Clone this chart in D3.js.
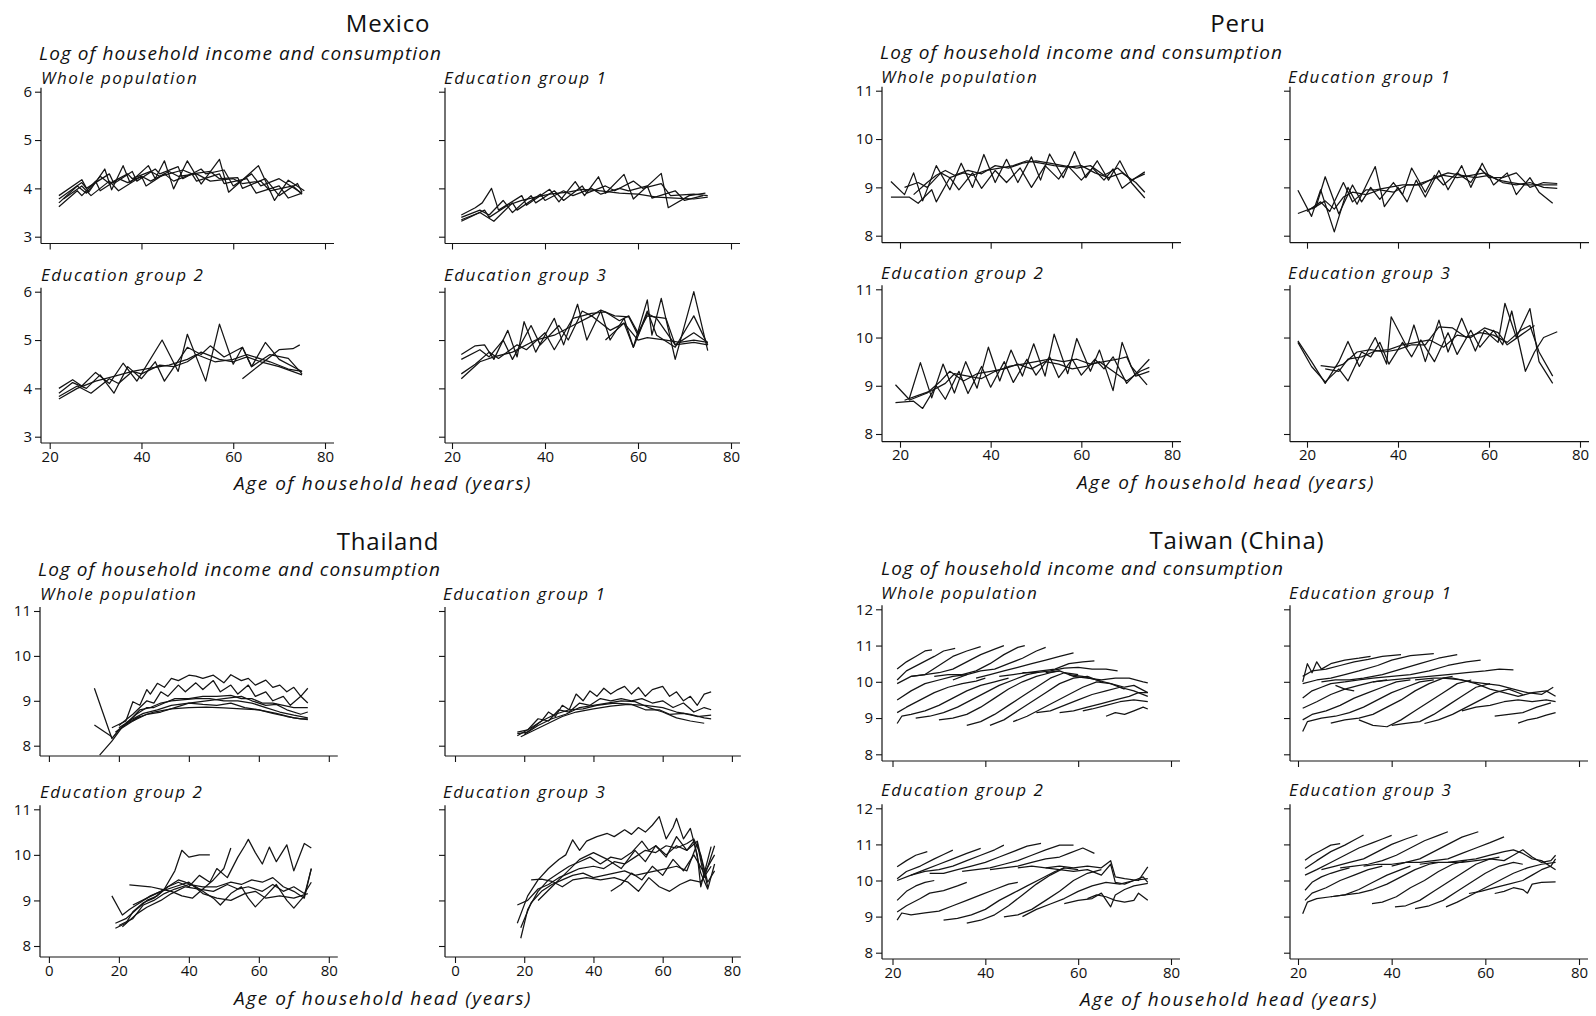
<!DOCTYPE html>
<html><head><meta charset="utf-8">
<script src="https://cdn.jsdelivr.net/npm/d3@7"></script>
<style>
body{margin:0;background:#fff;}
svg text{font-family:"Open Sans","Noto Sans",sans-serif;fill:#111;}
</style></head><body>
<svg id="chart" width="1596" height="1016"></svg>
<script>
// Cohort profiles: each line is a list of [age of household head, log value]
const countryNames = ["Mexico", "Peru", "Thailand", "Taiwan (China)"];
const panelNames = ["Whole population", "Education group 1", "Education group 2", "Education group 3"];
const ageTicks = [20, 40, 60, 80];
const thailandAgeTicks = [0, 20, 40, 60, 80];
const mexicoTicks = [3, 4, 5, 6];
const peruTicks = [8, 9, 10, 11];
const thailandTicks = [8, 9, 10, 11];
const taiwanTicks = [8, 9, 10, 11, 12];

const mexicoWhole = [
  [[22,3.85],[27,4.18],[28.5,3.92],[32,4.4],[33.5,3.97],[36,4.47],[37.5,4.12],[41.5,4.47],[43,4.2],[45,4.57],[47,3.99],[50,4.57],[53,4.09],[57,4.6],[59,3.92],[65.5,4.47],[69,3.75],[72,4.17],[75.5,3.95]],
  [[22,3.78],[27,4.12],[28,4.0],[33,4.3],[34,4.1],[38,4.35],[39,4.15],[43,4.4],[44,4.3],[48,4.45],[49,4.2],[53,4.4],[54,4.3],[58,4.38],[60,4.05],[64,4.3],[66,4.05],[70,4.2],[75,3.9]],
  [[22,3.7],[26,4.05],[28,3.9],[31,4.25],[33,4.1],[37,4.3],[38,4.2],[42,4.35],[44,4.25],[49,4.38],[51,4.3],[55,4.35],[57,4.2],[61,4.22],[62,4.0],[67,4.2],[70,3.85],[74,4.1],[75,3.92]],
  [[22,3.62],[26,3.95],[27,3.85],[30,4.15],[31,3.95],[35,4.2],[37,4.12],[40,4.25],[42,4.15],[46,4.35],[48,4.25],[52,4.3],[55,4.15],[60,4.2],[62,4.1],[66,4.15],[68,3.95],[73,4.05],[75,3.88]],
  [[23,3.78],[27,4.05],[29,3.85],[33,4.15],[35,3.95],[40,4.25],[41,4.05],[45,4.3],[47,4.15],[51,4.3],[52,4.15],[57,4.3],[58,4.1],[63,4.2],[65,3.9],[70,4.05],[72,3.8],[75,3.9]]
];
const mexicoEdu1 = [
  [[22,3.45],[25,3.6],[26.5,3.7],[28.5,4.0],[30,3.55],[35,3.85],[36,3.65],[41,3.98],[43,3.72],[46.5,4.14],[48.5,3.85],[51.5,4.24],[53,3.9],[57,4.29],[59,3.78],[65,4.31],[66.5,3.6],[71,3.85],[74.5,3.9]],
  [[22,3.4],[26,3.55],[28,3.45],[31,3.75],[33,3.5],[37,3.85],[38,3.7],[42,3.95],[44,3.75],[48,4.05],[49,3.9],[53,4.05],[55,3.95],[59,4.15],[61,4.0],[65,4.1],[67,3.85],[72,3.88],[75,3.85]],
  [[22,3.35],[26,3.5],[29,3.32],[33,3.7],[34,3.55],[39,3.88],[40,3.75],[44,3.95],[46,3.85],[50,4.0],[52,3.88],[56,4.0],[58,3.95],[62,4.05],[63,3.8],[68,3.95],[70,3.75],[74,3.85]],
  [[22,3.32],[27,3.55],[28,3.4],[32,3.65],[35,3.75],[38,3.82],[41,3.88],[45,3.92],[48,3.98],[52,3.95],[56,3.9],[60,3.88],[64,3.82],[68,3.8],[72,3.78],[75,3.82]]
];
const mexicoEdu2 = [
  [[22,4.0],[25,4.18],[27,4.05],[30,4.33],[33,4.1],[36,4.52],[39,4.15],[44.5,5.0],[48,4.35],[50,5.12],[54,4.15],[57,5.33],[60,4.5],[62,4.85],[64,4.45],[67,4.95],[70,4.6],[75,4.35]],
  [[22,3.9],[25,4.12],[28,4.0],[31,4.28],[34,3.9],[37,4.45],[40,4.2],[43,4.55],[45,4.15],[50,4.85],[53,4.7],[55,4.88],[58,4.65],[62,4.85],[64,4.45],[68,4.7],[72,4.62],[75,4.3]],
  [[22,3.83],[26,4.05],[29,3.9],[33,4.2],[35,4.1],[38,4.35],[40,4.3],[44,4.48],[47,4.45],[50,4.55],[53,4.75],[57,4.6],[60,4.55],[63,4.65],[66,4.55],[70,4.45],[75,4.28]],
  [[22,3.78],[26,4.0],[30,4.15],[34,4.25],[38,4.35],[42,4.42],[46,4.48],[50,4.6],[52,4.7],[56,4.55],[60,4.6],[63,4.7],[68,4.55],[72,4.4],[75,4.35]],
  [[62,4.2],[66,4.5],[70,4.8],[73,4.82],[74.5,4.9]]
];
const mexicoEdu3 = [
  [[22,4.7],[25,4.88],[27,4.9],[29,4.6],[32,5.2],[34,4.65],[35.5,5.38],[38,4.75],[42,5.45],[44,4.9],[47,5.74],[49,5.0],[52,5.6],[54,5.0],[57,5.45],[59,4.85],[62,5.83],[63,5.1],[65,5.86],[68,4.6],[72,6.0],[75,4.78]],
  [[22,4.6],[26,4.8],[28,4.65],[31,5.0],[33,4.6],[37,5.3],[39,4.9],[43,5.3],[45,5.0],[48,5.6],[50,5.5],[52,5.62],[55,5.5],[58,5.48],[60,5.1],[62,5.6],[64,5.1],[68,4.85],[72,5.5],[75,4.9]],
  [[22,4.3],[25,4.5],[28,4.75],[30,4.62],[34,4.9],[36,4.8],[40,5.15],[42,4.8],[46,5.45],[50,5.55],[53,5.58],[56,5.4],[58,5.5],[60,5.15],[62,5.5],[66,5.45],[68,4.9],[72,5.15],[75,4.95]],
  [[22,4.2],[26,4.55],[29,4.65],[33,4.75],[38,5.0],[42,5.1],[46,5.3],[50,5.5],[54,5.2],[57,5.35],[60,5.0],[62,5.05],[66,5.0],[69,4.95],[72,5.0],[75,4.95]],
  [[53,5.0],[57,5.35],[59,4.85],[62,5.55],[64,5.45],[68,4.9],[72,4.95],[75,4.9]]
];

const peruWhole = [
  [[18,9.12],[21,8.85],[23,9.3],[25,8.72],[28,9.45],[31,8.95],[33.5,9.5],[36,9.0],[38.5,9.68],[41,9.1],[43.5,9.58],[46,9.1],[49,9.63],[51,9.15],[53,9.69],[56,9.2],[58.5,9.74],[61,9.2],[63.5,9.55],[66,9.15],[68.5,9.55],[71,9.1],[74,8.78]],
  [[18,8.8],[22,8.8],[24,8.67],[27,8.95],[28,8.7],[31,9.2],[33,8.95],[36,9.3],[38,8.98],[41,9.35],[43.5,9.1],[46.5,9.4],[49,9.0],[52,9.45],[55,9.17],[57,9.45],[60,9.15],[62.5,9.4],[65,9.15],[67,9.38],[69,8.98],[72,9.2],[74,9.32]],
  [[21,9.0],[24,9.1],[26,9.0],[29,9.3],[31,9.2],[34,9.3],[36,9.25],[39,9.35],[42,9.4],[45,9.45],[48,9.55],[51,9.5],[54,9.45],[57,9.42],[60,9.45],[63,9.3],[66,9.2],[69,9.3],[72,9.1],[74,8.9]],
  [[23,8.85],[26,9.1],[28,9.25],[30,9.35],[32,9.25],[35,9.35],[38,9.28],[41,9.45],[44,9.4],[47,9.5],[50,9.55],[53,9.5],[56,9.45],[59,9.4],[62,9.45],[65,9.25],[68,9.4],[71,9.15],[74,9.28]]
];
const peruEdu1 = [
  [[18,8.94],[21,8.4],[23,8.95],[26,8.08],[29,9.0],[31,8.65],[35,9.43],[37,8.6],[40,9.0],[42,8.7],[44,9.15],[46,8.8],[49,9.35],[51,8.95],[54,9.45],[56,9.0],[58.5,9.5],[61,9.05],[64,9.3],[66,8.85],[69,9.2],[71,8.9],[74,8.67]],
  [[18,8.46],[22,8.6],[24,9.22],[27,8.45],[30,9.05],[32,8.7],[34,9.0],[36,8.75],[39,9.1],[41,8.85],[43,9.4],[46,8.9],[48,9.25],[50,9.05],[53,9.3],[56,9.1],[58,9.4],[60,9.2],[63,9.2],[66,9.3],[69,9.0],[72,9.1],[75,9.08]],
  [[20,8.5],[23,8.7],[25,8.5],[28,9.1],[30,8.7],[33,8.95],[35,8.95],[38,9.0],[41,9.05],[44,9.05],[47,9.15],[50,9.25],[53,9.2],[56,9.25],[59,9.3],[62,9.15],[65,9.1],[68,9.05],[71,9.05],[75,9.05]],
  [[21,8.55],[24,8.72],[26,8.55],[28,8.8],[30,8.9],[33,8.85],[36,8.95],[39,8.9],[42,9.05],[45,9.05],[48,9.2],[51,9.3],[54,9.25],[57,9.2],[60,9.25],[63,9.1],[66,9.05],[69,9.1],[72,9.0],[75,8.98]]
];
const peruEdu2 = [
  [[19,9.02],[22,8.72],[24.5,9.48],[27,8.75],[29.5,9.45],[32,8.85],[34.5,9.5],[37,8.95],[39.5,9.8],[42,9.1],[44.5,9.74],[47,9.2],[49.5,9.87],[52,9.2],[54,10.07],[57,9.25],[59,9.98],[62,9.3],[64,9.74],[67,8.9],[69,9.9],[71,9.4],[74.5,9.02]],
  [[19,8.65],[23,8.68],[25,8.53],[28,9.0],[30,8.72],[33,9.3],[35,8.84],[38,9.4],[40,8.97],[43,9.5],[45,9.07],[48,9.55],[50,9.22],[53,9.6],[55,9.17],[58,9.55],[60,9.22],[63,9.55],[65,9.35],[67,9.6],[70,9.05],[75,9.55]],
  [[21,8.7],[24,8.8],[27,8.9],[30,9.05],[32,9.25],[35,9.2],[38,9.15],[41,9.3],[44,9.4],[47,9.45],[50,9.5],[53,9.55],[56,9.5],[59,9.55],[62,9.45],[65,9.5],[68,9.55],[70,9.6],[72,9.2],[75,9.3]],
  [[22,8.7],[26,8.85],[29,9.1],[31,9.3],[34,9.1],[37,9.25],[40,9.3],[43,9.35],[46,9.45],[49,9.35],[52,9.5],[55,9.45],[58,9.35],[61,9.4],[64,9.5],[67,9.3],[70,9.1],[73,9.3],[75,9.38]]
];
const peruEdu3 = [
  [[18,9.93],[21,9.5],[24,9.05],[27,9.5],[29,9.92],[31.5,9.4],[35,10.0],[37.5,9.45],[38.5,10.43],[42,9.8],[43.5,10.26],[46,9.5],[49,10.36],[51,9.7],[54,10.4],[57,9.72],[59,10.15],[62,9.9],[63.5,10.71],[66,10.0],[69,10.6],[71,9.5],[74,9.05]],
  [[18,9.9],[21,9.4],[24,9.08],[27,9.35],[29,9.1],[32,9.7],[34,9.6],[36,9.9],[38,9.45],[41,9.9],[43,9.6],[45,9.95],[48,9.5],[51,10.1],[53,9.65],[56,10.15],[58,9.8],[61,10.15],[63,9.85],[65,10.55],[68,9.3],[70,9.7],[72,10.0],[75,10.12]],
  [[23,9.42],[26,9.38],[28,9.45],[31,9.7],[34,9.75],[37,9.7],[40,9.75],[43,9.85],[46,9.85],[49,10.22],[52,10.2],[55,10.0],[58,10.1],[61,10.05],[64,9.9],[67,10.15],[69,10.25],[71,9.7],[74,9.2]],
  [[24,9.35],[27,9.3],[29,9.55],[32,9.6],[35,9.72],[38,9.75],[41,9.85],[44,9.9],[47,9.95],[50,9.8],[53,10.05],[56,10.0],[59,10.2],[62,10.1],[64,9.85],[67,10.05],[70,10.25]]
];

const thailandWhole = [
  [[13,9.28],[18,8.16],[20,8.35],[23,8.5],[26,8.65]],
  [[13,8.46],[18,8.2]],
  [[14.5,7.79],[18,8.1],[21,8.42],[25,8.62],[30,8.75],[35,8.82],[40,8.85],[45,8.86],[50,8.84],[55,8.82],[60,8.8],[65,8.72],[70,8.62],[74,8.58]],
  [[18,8.4],[22,8.55],[24,8.98],[26,8.9],[28,9.25],[29,9.15],[31,9.39],[33,9.3],[35,9.5],[37,9.45],[40,9.57],[42,9.55],[44,9.5],[47,9.57],[50,9.4],[52,9.58],[55,9.45],[57,9.5],[59,9.35],[62,9.46],[64,9.3],[66,9.35],[68,9.2],[70,9.3],[72,9.1],[74,9.28]],
  [[20,8.45],[24,8.7],[26,8.85],[28,9.0],[30,8.95],[32,9.2],[34,9.1],[37,9.35],[39,9.2],[42,9.4],[44,9.25],[47,9.45],[49,9.2],[52,9.35],[54,9.15],[57,9.35],[59,9.1],[62,9.2],[64,9.0],[67,9.1],[69,8.9],[72,9.1],[74,8.95]],
  [[22,8.5],[25,8.7],[28,8.85],[30,8.85],[33,8.95],[36,9.05],[40,9.05],[44,9.1],[48,9.1],[52,9.12],[55,9.05],[58,9.05],[61,8.95],[64,8.95],[67,8.9],[70,8.85],[74,8.85]],
  [[19,8.3],[23,8.55],[26,8.8],[29,8.85],[32,8.95],[35,9.0],[38,9.02],[42,9.05],[46,9.05],[50,9.0],[54,9.0],[58,8.95],[62,8.85],[66,8.75],[70,8.68],[74,8.62]],
  [[20,8.4],[24,8.6],[27,8.72],[31,8.8],[35,8.9],[40,8.95],[45,9.0],[50,9.05],[55,9.1],[58,9.0],[62,8.9],[65,8.92],[68,8.8],[72,8.7],[74,8.75]],
  [[24,8.55],[28,8.7],[32,8.75],[36,8.85],[40,8.95],[44,8.92],[48,8.9],[52,8.95],[56,8.85],[60,8.8],[64,8.72],[68,8.65],[72,8.6],[74,8.6]]
];
const thailandEdu1 = [
  [[18,8.22],[22,8.4],[25,8.55],[27,8.75],[29,8.65],[31,8.9],[33,8.8],[35,9.15],[37,9.0],[39,9.22],[41,9.1],[43,9.28],[45,9.15],[47,9.25],[49,9.32],[51,9.15],[53,9.3],[55,9.1],[57,9.25],[60,9.32],[62,9.1],[64,9.2],[66,9.0],[68,9.1],[70,8.9],[72,9.15],[74,9.2]],
  [[18,8.3],[21,8.35],[24,8.6],[27,8.55],[30,8.8],[33,8.75],[36,8.95],[39,8.9],[42,9.05],[45,9.0],[48,9.05],[51,9.0],[54,9.05],[57,8.95],[60,9.0],[63,8.85],[66,8.95],[69,8.75],[72,8.85],[74,8.8]],
  [[19,8.2],[23,8.35],[27,8.5],[31,8.65],[35,8.75],[40,8.82],[45,8.88],[50,8.92],[55,8.9],[60,8.85],[64,8.75],[68,8.7],[72,8.62],[74,8.6]],
  [[18,8.27],[21,8.3],[24,8.45],[28,8.6],[32,8.7],[36,8.85],[40,8.9],[44,8.95],[48,9.0],[52,8.98],[56,8.85],[60,8.75],[64,8.62],[68,8.55],[72,8.5]],
  [[20,8.25],[25,8.55],[29,8.7],[33,8.8],[37,8.82],[41,8.9],[46,8.95],[51,8.92],[55,8.8],[59,8.8],[62,8.7],[66,8.72],[70,8.65],[74,8.68]]
];
const thailandEdu2 = [
  [[18,9.1],[21,8.68],[23,8.8],[26,8.95],[29,9.1],[32,9.2],[35,9.35],[37,9.45],[39,9.4],[42,9.3],[44,9.2],[47,9.05],[49,8.9],[52,9.15],[55,9.3],[57,9.05],[59,8.86],[62,9.1],[65,9.35],[68,9.0],[70,8.83],[73,9.1],[75,9.7]],
  [[19,8.39],[22,8.5],[24,8.75],[27,8.95],[30,9.05],[33,9.25],[36,9.65],[38,10.1],[40,9.95],[43,10.0],[46,10.0]],
  [[23,9.34],[26,9.32],[29,9.3],[32,9.25],[35,9.2],[38,9.1],[41,9.05],[44,9.25],[47,9.45],[50,9.7],[52,10.15]],
  [[19,8.5],[22,8.6],[25,8.8],[28,9.0],[31,9.1],[34,9.3],[37,9.4],[40,9.3],[43,9.55],[46,9.4],[48,9.7],[51,9.5],[54,9.95],[56,10.2],[57,10.34],[59,10.05],[61,9.8],[63,10.17],[65,9.85],[68,10.22],[70,9.65],[73,10.25],[75,10.15]],
  [[20,8.45],[24,8.6],[27,8.9],[30,9.0],[33,9.15],[36,9.25],[40,9.35],[44,9.3],[48,9.3],[52,9.4],[55,9.35],[58,9.45],[61,9.4],[64,9.5],[67,9.3],[70,9.2],[73,9.05],[75,9.7]],
  [[21,8.42],[25,8.7],[28,8.85],[32,9.0],[35,9.15],[39,9.3],[43,9.25],[47,9.2],[51,9.35],[54,9.25],[57,9.3],[61,9.2],[64,9.35],[67,9.2],[70,9.3],[73,9.15],[75,9.4]],
  [[24,8.9],[28,9.05],[32,9.2],[36,9.3],[40,9.4],[44,9.15],[48,9.05],[52,9.0],[56,9.15],[59,9.2],[62,9.05],[66,9.1],[70,9.05],[74,9.15]]
];
const thailandEdu3 = [
  [[18,8.5],[21,9.1],[24,9.45],[27,9.7],[30,9.9],[32,10.0],[34,10.33],[36,10.1],[38,10.3],[41,10.4],[44,10.47],[46,10.4],[49,10.55],[51,10.45],[53,10.6],[55,10.5],[57,10.65],[59,10.84],[61,10.35],[63,10.6],[64,10.8],[66,10.35],[68,10.58],[70,10.0],[71,9.3],[74,10.18]],
  [[19,8.17],[21,8.8],[24,9.2],[27,9.45],[30,9.6],[33,9.75],[36,9.85],[39,9.95],[42,9.8],[45,9.95],[48,9.9],[51,10.05],[54,10.3],[56,10.1],[58,10.2],[61,10.0],[64,10.2],[67,10.1],[69,10.3],[71,9.6],[73,9.25],[75,9.8]],
  [[18,8.9],[21,9.0],[24,9.25],[27,9.35],[30,9.5],[33,9.6],[36,9.7],[40,9.75],[43,9.7],[46,9.85],[49,9.8],[52,9.95],[55,10.1],[58,10.05],[61,10.2],[64,10.15],[67,10.25],[69,10.35],[71,10.0],[73,9.4],[75,9.65]],
  [[19,8.4],[22,8.95],[25,9.2],[28,9.35],[31,9.45],[34,9.55],[37,9.6],[40,9.5],[43,9.55],[46,9.6],[49,9.65],[52,9.55],[55,9.6],[58,9.65],[61,9.7],[64,9.75],[67,9.65],[70,10.25],[72,9.5],[75,10.2]],
  [[22,9.45],[25,9.47],[28,9.42],[31,9.3],[34,9.45],[38,9.5],[42,9.45],[46,9.5],[50,9.4],[53,9.2],[56,9.5],[59,9.3],[62,9.2],[65,9.35],[68,9.45],[71,9.4],[74,9.75]],
  [[24,9.0],[28,9.3],[32,9.6],[36,9.9],[40,10.05],[44,9.9],[48,9.7],[52,10.1],[55,9.85],[58,10.2],[61,9.95],[64,10.4],[67,10.1],[70,10.3],[73,9.3]],
  [[45,9.2],[48,9.35],[51,9.6],[54,9.45],[57,9.75],[60,9.55],[63,9.9],[66,9.65],[69,10.0],[72,9.6],[75,10.0]]
];

const taiwanWhole = [
  [[21,10.35],[23,10.55],[25,10.7],[27,10.85],[28.5,10.88]],
  [[21,10.05],[23,10.3],[26,10.5],[29,10.7],[31,10.85],[33.5,10.92]],
  [[21,9.95],[24,10.15],[27,10.2],[30,10.45],[33,10.7],[36,10.85],[39,10.97]],
  [[24,10.15],[27,10.2],[30,10.25],[33,10.35],[36,10.55],[39,10.75],[42,10.9],[44,11.0]],
  [[29,10.15],[32,10.2],[35,10.2],[38,10.3],[41,10.5],[44,10.75],[47,10.95],[48.5,11.0]],
  [[33,10.05],[36,10.2],[39,10.3],[42,10.35],[45,10.5],[48,10.65],[51,10.85],[53,10.95]],
  [[38,10.1],[41,10.2],[44,10.3],[47,10.4],[50,10.5],[53,10.6],[56,10.7],[59,10.8]],
  [[43,10.15],[46,10.2],[49,10.25],[52,10.3],[55,10.35],[58,10.5],[61,10.55],[63.5,10.58]],
  [[48,10.25],[51,10.25],[54,10.3],[57,10.38],[60,10.4],[63,10.35],[66,10.35],[68.5,10.3]],
  [[53,10.25],[56,10.3],[59,10.15],[62,10.1],[65,10.05],[68,10.1],[71,10.1],[74,10.0],[75,9.97]],
  [[58,10.2],[61,10.15],[64,10.05],[67,9.95],[70,9.85],[72,9.9],[75,9.7]],
  [[21,9.5],[24,9.75],[27,9.95],[30,10.05],[33,10.15],[36,10.2]],
  [[21,9.15],[23,9.3],[26,9.5],[29,9.7],[32,9.85],[35,9.95],[38,10.02],[40,10.1]],
  [[21,8.85],[22,9.05],[24,9.1],[27,9.2],[30,9.35],[33,9.55],[36,9.75],[39,9.9],[42,10.0],[45,10.1]],
  [[25,9.0],[28,9.05],[31,9.15],[34,9.3],[37,9.5],[40,9.7],[43,9.9],[46,10.05],[49,10.2],[51,10.25]],
  [[30,8.95],[33,9.0],[36,9.1],[39,9.3],[42,9.55],[45,9.8],[48,10.0],[51,10.15],[54,10.25],[56,10.3]],
  [[36,8.8],[39,8.9],[42,9.1],[45,9.35],[48,9.6],[51,9.85],[54,10.1],[57,10.25],[60,10.2]],
  [[41,8.8],[44,8.95],[47,9.2],[50,9.45],[53,9.7],[56,9.95],[59,10.1],[62,10.15],[65,10.0]],
  [[46,8.9],[49,9.05],[52,9.25],[55,9.45],[58,9.65],[61,9.85],[64,10.0],[67,9.95],[70,9.8]],
  [[51,9.15],[54,9.2],[57,9.35],[60,9.5],[63,9.65],[66,9.75],[69,9.85],[72,9.75],[75,9.6]],
  [[56,9.15],[59,9.2],[62,9.3],[65,9.4],[68,9.5],[71,9.6],[73,9.7],[75,9.7]],
  [[61,9.2],[63,9.25],[66,9.35],[69,9.45],[72,9.5],[75,9.45]],
  [[66,9.05],[68,9.15],[70,9.1],[72,9.2],[74,9.3],[75,9.25]]
];
const taiwanEdu1 = [
  [[21,10.0],[22,10.5],[23,10.25],[24,10.55],[25,10.35],[27,10.5],[30,10.6],[33,10.65],[35.5,10.7]],
  [[21,10.15],[23,10.3],[26,10.35],[29,10.45],[32,10.55],[35,10.62],[38,10.7],[42,10.75]],
  [[21,9.95],[24,10.05],[27,10.1],[30,10.2],[33,10.3],[37,10.45],[40,10.6],[44,10.72],[49,10.78]],
  [[25,10.0],[28,10.05],[31,10.05],[34,10.1],[38,10.2],[42,10.35],[46,10.5],[50,10.65],[54,10.75]],
  [[30,10.0],[33,10.05],[36,10.1],[40,10.15],[44,10.2],[48,10.3],[52,10.45],[56,10.55],[59,10.6]],
  [[36,10.0],[40,10.05],[44,10.1],[48,10.15],[52,10.2],[56,10.25],[60,10.3],[63,10.35],[66,10.33]],
  [[45,10.05],[49,10.1],[53,10.1],[57,10.0],[60,9.95],[63,9.9],[66,9.8],[69,9.7],[72,9.65],[74.5,9.85]],
  [[51,10.1],[55,10.05],[58,9.95],[61,9.8],[64,9.7],[67,9.6],[70,9.7],[73,9.75],[75,9.6]],
  [[21,9.55],[23,9.75],[25,9.85],[27,9.95],[30,10.0]],
  [[28,9.9],[30,9.8],[32,9.75]],
  [[21,9.27],[24,9.45],[27,9.65],[30,9.8],[33,9.9],[36,10.0],[39,10.05]],
  [[21,8.95],[23,9.1],[26,9.2],[29,9.35],[32,9.55],[35,9.7],[38,9.85],[41,10.0],[44,10.05]],
  [[21,8.63],[22,8.9],[25,9.0],[28,9.05],[31,9.15],[34,9.3],[37,9.5],[40,9.7],[43,9.85],[46,10.0],[49,10.05]],
  [[27,8.86],[30,8.95],[33,9.0],[36,9.1],[39,9.3],[42,9.5],[45,9.75],[48,9.95],[51,10.1],[53,10.15]],
  [[33,8.95],[36,8.8],[39,8.76],[42,8.95],[45,9.2],[48,9.45],[51,9.7],[54,9.95],[57,10.05]],
  [[40,8.8],[43,8.85],[46,8.9],[49,9.1],[52,9.35],[55,9.6],[58,9.85],[61,9.95]],
  [[47,8.85],[50,8.95],[53,9.1],[56,9.3],[59,9.5],[62,9.7],[65,9.8],[68,9.65]],
  [[55,9.2],[58,9.3],[61,9.35],[64,9.45],[67,9.5],[70,9.45],[73,9.5],[75,9.45]],
  [[62,9.05],[65,9.1],[68,9.15],[71,9.3],[74,9.42]],
  [[67,8.86],[69,8.95],[71,9.0],[73,9.08],[75,9.15]]
];
const taiwanEdu2 = [
  [[21,10.38],[23,10.55],[25,10.7],[27.5,10.8]],
  [[21,10.05],[23,10.25],[26,10.4],[29,10.6],[31,10.72],[33,10.84]],
  [[21,10.0],[24,10.15],[27,10.3],[30,10.45],[33,10.6],[36,10.75],[39,10.89]],
  [[24,10.15],[27,10.25],[30,10.3],[33,10.4],[36,10.55],[39,10.7],[42,10.85],[44,10.98]],
  [[28,10.2],[31,10.2],[34,10.3],[37,10.4],[40,10.5],[43,10.65],[46,10.8],[49,10.95],[52,11.03]],
  [[35,10.25],[38,10.3],[41,10.35],[44,10.45],[47,10.55],[50,10.7],[53,10.85],[56,10.98],[59,10.98]],
  [[41,10.3],[44,10.35],[47,10.4],[50,10.5],[53,10.6],[56,10.65],[58,10.75],[61,10.9],[63.5,10.75]],
  [[47,10.35],[50,10.4],[53,10.35],[56,10.4],[59,10.35],[62,10.4],[65,10.35],[67,10.55],[68,10.1],[70,10.05],[73,10.0],[75,10.38]],
  [[53,10.35],[56,10.3],[59,10.25],[62,10.3],[65,10.15],[67,10.45],[68,9.95],[70,9.9],[72,10.0],[74,10.1],[75,9.95]],
  [[21,9.45],[23,9.7],[25,9.85],[27,9.95],[29,10.0]],
  [[21,9.13],[23,9.3],[26,9.5],[28,9.65],[31,9.72],[34,9.85],[36,9.95]],
  [[21,8.9],[22,9.1],[24,9.05],[27,9.1],[30,9.15],[33,9.3],[36,9.45],[39,9.6],[42,9.75],[45,9.9],[47,9.95]],
  [[31,8.9],[34,8.95],[37,9.05],[40,9.2],[43,9.45],[46,9.65],[49,9.85],[52,10.05],[55,10.25],[57,10.35]],
  [[36,8.82],[39,8.9],[42,9.05],[45,9.3],[48,9.6],[51,9.9],[54,10.15],[57,10.35],[60,10.3]],
  [[44,8.99],[47,9.05],[50,9.2],[53,9.45],[56,9.7],[59,10.0],[62,10.2],[65,10.3]],
  [[48,9.0],[51,9.2],[54,9.35],[57,9.5],[60,9.7],[63,9.85],[66,9.95],[69,9.9],[72,10.0],[75,10.05]],
  [[57,9.36],[60,9.45],[63,9.5],[65,9.65],[67,9.27],[68,9.6],[70,9.75],[72,9.85],[75,9.92]],
  [[62,9.5],[64,9.6],[66,9.55],[68,9.45],[70,9.4],[72,9.45],[73,9.65],[75,9.45]]
];
const taiwanEdu3 = [
  [[21.5,10.56],[23,10.7],[25,10.84],[27,10.98],[29,11.02]],
  [[21.5,10.33],[24,10.55],[27,10.8],[30,10.98],[32,11.12],[34,11.26]],
  [[21.5,10.15],[24,10.3],[27,10.5],[30,10.7],[33,10.9],[36,11.05],[38,11.15],[40,11.25]],
  [[25,10.3],[28,10.4],[31,10.5],[34,10.6],[37,10.8],[40,11.0],[43,11.15],[45.5,11.26]],
  [[29,10.35],[32,10.4],[35,10.45],[38,10.55],[41,10.7],[44,10.9],[47,11.1],[50,11.25],[52,11.35]],
  [[34,10.4],[37,10.45],[40,10.45],[43,10.5],[46,10.6],[49,10.8],[52,11.0],[55,11.2],[58.5,11.35]],
  [[40,10.4],[43,10.5],[46,10.5],[49,10.55],[52,10.6],[55,10.75],[58,10.9],[61,11.05],[64,11.21]],
  [[46,10.45],[49,10.5],[52,10.5],[55,10.55],[58,10.6],[61,10.7],[64,10.8],[66,10.85],[68,10.75],[70,10.6],[72,10.55],[75,10.3]],
  [[52,10.5],[55,10.5],[58,10.55],[61,10.6],[64,10.55],[66,10.7],[68,10.85],[70,10.65],[72,10.5],[74,10.55],[75,10.7]],
  [[21.5,9.73],[23,9.95],[25,10.1],[27,10.2],[29,10.28],[31,10.35]],
  [[21.5,9.45],[23,9.65],[26,9.8],[29,10.0],[32,10.15],[35,10.3],[38,10.4]],
  [[21,9.08],[22,9.4],[24,9.5],[27,9.55],[30,9.6],[33,9.75],[36,9.95],[39,10.15],[42,10.3],[44,10.4]],
  [[27,9.55],[30,9.6],[33,9.65],[36,9.75],[39,9.9],[42,10.1],[45,10.3],[48,10.45],[50,10.5]],
  [[35.8,9.36],[38,9.4],[41,9.55],[44,9.8],[47,10.0],[50,10.25],[53,10.45],[56,10.55]],
  [[40.7,9.27],[43,9.3],[46,9.45],[49,9.7],[52,9.95],[55,10.2],[58,10.45],[61,10.6],[63,10.65]],
  [[45,9.22],[48,9.3],[51,9.45],[54,9.7],[57,9.95],[60,10.2],[63,10.4],[66,10.5],[68,10.45]],
  [[51.6,9.27],[54,9.4],[57,9.6],[60,9.8],[63,10.0],[66,10.2],[69,10.35],[72,10.45],[75,10.5]],
  [[56.5,9.64],[59,9.7],[62,9.8],[65,9.9],[68,10.0],[70,10.15],[72,10.3],[74,10.4],[75,10.6]],
  [[62,9.64],[64,9.7],[66,9.8],[68,9.75],[69,9.65],[70,9.9],[72,9.95],[75,9.96]]
];

// Page layout for the four country blocks
const blocks = [
  { name: countryNames[0], panels: [mexicoWhole, mexicoEdu1, mexicoEdu2, mexicoEdu3],
    yTicks: mexicoTicks, xTicks: ageTicks, xDom: [20, 80], yDom: [3, 6],
    title: [388, 31.5], sub: [39, 59.5], labelY: [83.5, 281], axisX: [41, 445], labelX: [41, 444],
    xRange: [[49.7, 325], [452, 731]], yRange: [[236.7, 91.7], [436.7, 291.7]], xAxisY: [243.5, 443],
    ageLabel: [383, 490] },
  { name: countryNames[1], panels: [peruWhole, peruEdu1, peruEdu2, peruEdu3],
    yTicks: peruTicks, xTicks: ageTicks, xDom: [20, 80], yDom: [8, 11],
    title: [1238, 31.5], sub: [880, 59], labelY: [83, 279], axisX: [882, 1290], labelX: [881, 1288],
    xRange: [[900, 1172], [1307, 1580]], yRange: [[235.7, 90.7], [434, 289.3]], xAxisY: [242.7, 441.7],
    ageLabel: [1226, 488.5] },
  { name: countryNames[2], panels: [thailandWhole, thailandEdu1, thailandEdu2, thailandEdu3],
    yTicks: thailandTicks, xTicks: thailandAgeTicks, xDom: [0, 80], yDom: [8, 11],
    title: [388, 550], sub: [38, 576], labelY: [600, 798], axisX: [40, 445], labelX: [40, 443],
    xRange: [[48.9, 328.8], [455, 731.9]], yRange: [[745.7, 611], [946, 809.3]], xAxisY: [756, 957],
    ageLabel: [383, 1005] },
  { name: countryNames[3], panels: [taiwanWhole, taiwanEdu1, taiwanEdu2, taiwanEdu3],
    yTicks: taiwanTicks, xTicks: ageTicks, xDom: [20, 80], yDom: [8, 12],
    title: [1237, 549], sub: [881, 575], labelY: [598.5, 796], axisX: [882, 1290], labelX: [881, 1289],
    xRange: [[892.5, 1171], [1298, 1579]], yRange: [[754.3, 609.3], [952.7, 808.3]], xAxisY: [761, 959],
    ageLabel: [1229, 1006] }
];

const svg = d3.select("#chart");
const ink = "#141414";

blocks.forEach(b => {
  const g = svg.append("g");
  g.append("text").attr("x", b.title[0]).attr("y", b.title[1]).attr("text-anchor", "middle")
    .attr("font-size", 24).attr("letter-spacing", 0.8).text(b.name);
  g.append("text").attr("x", b.sub[0]).attr("y", b.sub[1]).attr("font-size", 19)
    .attr("font-style", "italic").attr("letter-spacing", 1.05).text("Log of household income and consumption");
  g.append("text").attr("x", b.ageLabel[0]).attr("y", b.ageLabel[1]).attr("text-anchor", "middle")
    .attr("font-size", 19).attr("font-style", "italic").attr("letter-spacing", 1.6).text("Age of household head (years)");

  b.panels.forEach((lines, i) => {
    const col = i % 2, row = Math.floor(i / 2);
    const x = d3.scaleLinear().domain(b.xDom).range(b.xRange[col]);
    const y = d3.scaleLinear().domain(b.yDom).range(b.yRange[row]);
    const axX = b.axisX[col], axY = b.xAxisY[row];
    const p = g.append("g");

    p.append("text").attr("x", b.labelX[col]).attr("y", b.labelY[row]).attr("font-size", 17)
      .attr("font-style", "italic").attr("letter-spacing", 1.5).text(panelNames[i]);

    // axis lines
    p.append("line").attr("x1", axX).attr("x2", axX)
      .attr("y1", y(b.yDom[1]) - 4).attr("y2", axY).attr("stroke", ink).attr("stroke-width", 1.2);
    p.append("line").attr("x1", axX).attr("x2", x(80) + 9)
      .attr("y1", axY).attr("y2", axY).attr("stroke", ink).attr("stroke-width", 1.2);

    const ya = p.append("g").attr("transform", `translate(${axX},0)`)
      .call(d3.axisLeft(y).tickValues(b.yTicks).tickSize(6).tickPadding(3)
        .tickFormat(col === 0 ? d3.format("d") : () => ""));
    const xa = p.append("g").attr("transform", `translate(0,${axY})`)
      .call(d3.axisBottom(x).tickValues(b.xTicks).tickSize(6).tickPadding(2)
        .tickFormat(row === 1 ? d3.format("d") : () => ""));
    [ya, xa].forEach(a => {
      a.select(".domain").remove();
      a.selectAll(".tick line").attr("stroke", ink).attr("stroke-width", 1.1);
      a.selectAll(".tick text").attr("font-size", 15).attr("fill", ink)
        .attr("font-family", "\"Open Sans\",\"Noto Sans\",sans-serif");
    });
    // axes without labels keep no empty text nodes
    if (col !== 0) ya.selectAll(".tick text").remove();
    if (row !== 1) xa.selectAll(".tick text").remove();

    const line = d3.line().x(d => x(d[0])).y(d => y(d[1]));
    p.append("g").selectAll("path").data(lines).join("path")
      .attr("d", line).attr("fill", "none").attr("stroke", ink)
      .attr("stroke-width", 1.25).attr("stroke-linejoin", "round");
  });
});
</script>
</body></html>
